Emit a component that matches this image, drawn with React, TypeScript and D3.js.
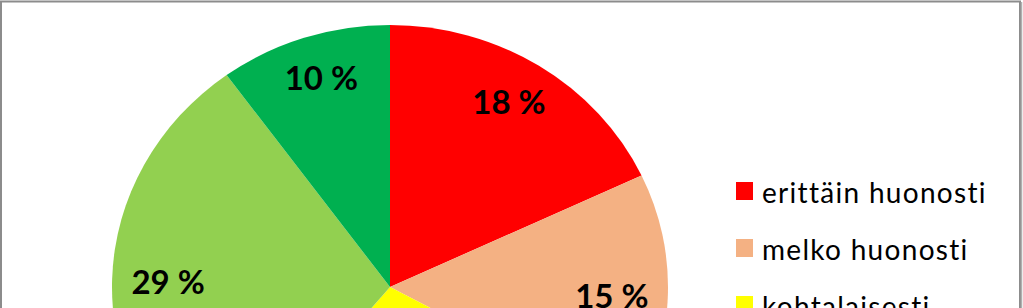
import React from "react";
import * as d3 from "d3";

const categories = ["erittäin huonosti", "melko huonosti", "kohtalaisesti", "melko hyvin", "erittäin hyvin"];
const values = [18, 15, 28, 29, 10];
const colors = ["#FF0000", "#F4B183", "#FFFF00", "#92D050", "#00B050"];

const W = 1023;
const H = 308;

export default function App() {
  const cx = 390;
  const cy = 287;
  const R = 262;
  const sx = 278 / 262;
  const labelR = 222;

  const pie = d3.pie<number>().sort(null).value((d) => d)(values);
  const arc = d3.arc<d3.PieArcDatum<number>>().innerRadius(0).outerRadius(R);
  const labelArc = d3.arc<d3.PieArcDatum<number>>().innerRadius(labelR).outerRadius(labelR);

  const legendY = d3.scaleLinear().domain([0, 1]).range([191, 248]);

  return (
    <div style={{ position: "fixed", left: 0, top: 0, width: W, height: H, overflow: "hidden", background: "#fff" }}>
      <svg width={W} height={H} style={{ display: "block" }}>
        <rect x={0} y={0} width={W} height={H} fill="#fff" />
        {/* outer frame */}
        <rect x={1} y={1.5} width={1019} height={H + 20} fill="none" stroke="#8c8c8c" strokeWidth={2} />
        <line x1={1021.5} y1={2} x2={1021.5} y2={H} stroke="#b0b0b0" strokeWidth={1.5} />

        <g transform={`translate(${cx},${cy}) scale(${sx},1)`}>
          {pie.map((s, i) => (
            <path key={i} d={arc(s) || ""} fill={colors[i]} />
          ))}
        </g>
        <g transform={`translate(${cx},${cy})`}>
          {pie.map((s, i) => {
            const [x, y] = labelArc.centroid(s);
            return (
              <text
                key={i}
                x={x}
                y={y + 1}
                textAnchor="middle"
                dominantBaseline="central"
                fontFamily="Lato, 'Open Sans', sans-serif"
                fontWeight="bold"
                fontSize={33}
                fill="#000"
              >
                {`${values[i]} %`}
              </text>
            );
          })}
        </g>

        <g>
          {categories.map((c, i) => (
            <g key={c} transform={`translate(736,${legendY(i)})`}>
              <rect x={0} y={-9} width={17} height={18} fill={colors[i]} />
              <text
                x={26}
                y={1}
                dominantBaseline="central"
                fontFamily="Lato, 'Open Sans', sans-serif"
                fontSize={28}
                letterSpacing={1.3}
                fill="#000"
              >
                {c}
              </text>
            </g>
          ))}
        </g>
      </svg>
    </div>
  );
}
